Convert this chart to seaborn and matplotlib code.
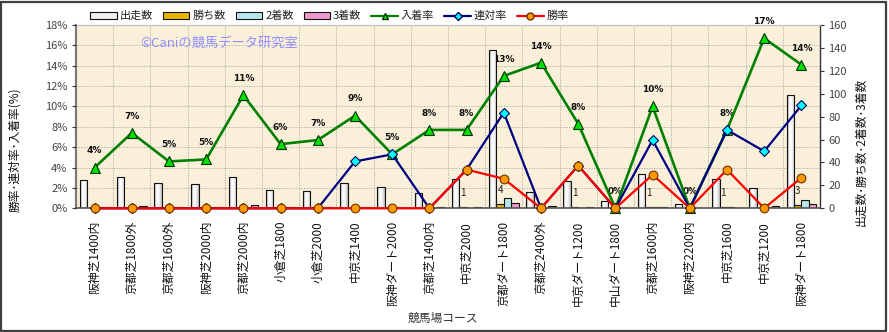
import numpy as np
import pandas as pd
import matplotlib
matplotlib.use("Agg")
import matplotlib.pyplot as plt
import seaborn as sns
from matplotlib.patches import Patch, Rectangle
from matplotlib.lines import Line2D
from matplotlib.colors import LinearSegmentedColormap
from matplotlib.ticker import FixedLocator, FuncFormatter

# ---- data -------------------------------------------------------------
courses = ["阪神芝1400内", "京都芝1800外", "京都芝1600外", "阪神芝2000内", "京都芝2000内",
           "小倉芝1800", "小倉芝2000", "中京芝1400", "阪神ダート2000", "京都芝1400内",
           "中京芝2000", "京都ダート1800", "京都芝2400外", "中京ダート1200", "中山ダート1800",
           "京都芝1600内", "阪神芝2200内", "中京芝1600", "中京芝1200", "阪神ダート1800"]

runs = [25, 27, 22, 21, 27, 16, 15, 22, 19, 13, 26, 138, 14, 24, 6, 30, 4, 26, 18, 99]
wins = [0, 0, 0, 0, 0, 0, 0, 0, 0, 0, 1, 4, 0, 1, 0, 1, 0, 1, 0, 3]
seconds = [0, 0, 0, 0, 0, 0, 0, 1, 1, 0, 0, 9, 0, 0, 0, 1, 0, 1, 1, 7]
thirds = [1, 2, 1, 1, 3, 1, 1, 1, 0, 1, 1, 5, 2, 1, 0, 1, 0, 0, 2, 4]

place_rate = [4.0, 7.4, 4.6, 4.8, 11.1, 6.3, 6.7, 9.1, 5.3, 7.7,
              7.7, 13.0, 14.3, 8.3, 0.0, 10.0, 0.0, 7.7, 16.7, 14.1]
quinella_rate = [0.0, 0.0, 0.0, 0.0, 0.0, 0.0, 0.0, 4.6, 5.3, 0.0,
                 3.8, 9.4, 0.0, 4.2, 0.0, 6.7, 0.0, 7.7, 5.6, 10.1]
win_rate = [0.0, 0.0, 0.0, 0.0, 0.0, 0.0, 0.0, 0.0, 0.0, 0.0,
            3.8, 2.9, 0.0, 4.2, 0.0, 3.3, 0.0, 3.8, 0.0, 3.0]

bar_series = ["出走数", "勝ち数", "2着数", "3着数"]
pct_ticks = list(range(0, 19, 2))
count_ticks = list(range(0, 161, 20))

# ---- style ------------------------------------------------------------
sns.set_theme(style="white")
plt.rcParams["font.family"] = ["Noto Sans CJK JP", "DejaVu Sans"]

bar_colors = ["#EEEEEE", "#E8B400", "#B4E6EC", "#EC9CCC"]
n = len(courses)

W, H = 889, 332
fig = plt.figure(figsize=(W / 100, H / 100), dpi=100)
fig.patch.set_facecolor("white")

x0, x1, ytop, ybot = 76, 820, 25, 208.3
ax_bar = fig.add_axes([x0 / W, 1 - ybot / H, (x1 - x0) / W, (ybot - ytop) / H])
ax_bar.set_facecolor("#FAF0DA")
ax_rate = ax_bar.twinx()

# counts as grouped bars (right axis)
counts = pd.DataFrame({
    "コース": courses * 4,
    "項目": np.repeat(bar_series, n),
    "数": runs + wins + seconds + thirds,
})
sns.barplot(data=counts, x="コース", y="数", hue="項目", hue_order=bar_series,
            palette=bar_colors, saturation=1, width=0.8, gap=0, errorbar=None,
            edgecolor="#111111", linewidth=0.8, legend=False, ax=ax_bar)

# soft cylinder shading on the starts bars
shade = LinearSegmentedColormap.from_list("shade", ["#9A9A9A", "#FFFFFF", "#F4F4F4", "#B8B8B8"])
grad = np.linspace(0, 1, 64).reshape(1, -1)
for p in ax_bar.containers[0]:
    bx, by = p.get_x(), p.get_y()
    bw, bh = p.get_width(), p.get_height()
    if bh <= 0:
        continue
    im = ax_bar.imshow(grad, cmap=shade, aspect="auto", extent=(bx, bx + bw, by, by + bh),
                       zorder=0.95, interpolation="bilinear")
    im.set_clip_path(p)
    p.set_facecolor("none")

# rates as lines (left axis); win rate drawn last so it sits on top
line_specs = [
    (place_rate, "#008000", "^", 7.0, "#00E000", "#003000", 1.9),
    (quinella_rate, "#000080", "D", 4.8, "#00FFFF", "#000060", 1.6),
    (win_rate, "#FF0000", "o", 6.3, "#FF9900", "#703000", 1.6),
]
for vals, col, mk, ms, mfc, mec, lw in line_specs:
    sns.lineplot(x=courses, y=vals, sort=False, ax=ax_rate, color=col, linewidth=lw,
                 marker=mk, markersize=ms, markerfacecolor=mfc, markeredgecolor=mec,
                 markeredgewidth=0.8, clip_on=False)

# value labels: rate labels sit behind the bars, as in the chart layers
for i, v in enumerate(place_rate):
    ax_bar.annotate(f"{v:.0f}%", (i, v), xycoords=ax_rate.transData, xytext=(0, 12),
                    textcoords="offset points", ha="center", va="center", fontsize=6.5,
                    fontweight="bold", color="#111111", family=["DejaVu Sans"], zorder=0.9)
for i, w in enumerate(wins):
    if w > 0:
        ax_bar.annotate(str(w), (i - 0.1, w), xytext=(0, 10), textcoords="offset points",
                        ha="center", va="center", fontsize=7, color="#222222")

# axes layout
ax_bar.yaxis.tick_right()
ax_bar.yaxis.set_label_position("right")
ax_rate.yaxis.tick_left()
ax_rate.yaxis.set_label_position("left")

ax_bar.set_xlim(-0.5, n - 0.5)
ax_bar.set_ylim(0, 160)
ax_rate.set_ylim(0, 18)
ax_bar.set_yticks(count_ticks)
ax_rate.set_yticks(pct_ticks)
ax_rate.yaxis.set_major_formatter(FuncFormatter(lambda v, _: f"{v:.0f}%"))

# dotted grid behind the bars
ax_bar.xaxis.set_minor_locator(FixedLocator(np.arange(-0.5, n, 1.0)))
ax_bar.yaxis.set_minor_locator(FixedLocator(np.array(pct_ticks) * 160 / 18))
ax_bar.grid(which="minor", axis="both", color="#A8A8A8", linestyle=(0, (1.5, 1.5)), linewidth=0.6)
ax_bar.grid(which="major", visible=False)
ax_bar.set_axisbelow(True)
ax_bar.tick_params(which="minor", length=0)

ax_bar.set_xlabel("")
ax_bar.set_ylabel("")
ax_rate.set_xlabel("")
ax_rate.set_ylabel("")
ax_bar.set_xticks(range(n))
ax_bar.set_xticklabels(courses, rotation=90, fontsize=8.5, color="#111111")
ax_bar.tick_params(axis="x", which="major", length=0, pad=9)
ax_bar.tick_params(axis="y", which="major", length=3, width=0.8, color="#333333",
                   labelsize=8, labelcolor="#444444", pad=3, right=True, left=False)
ax_rate.tick_params(axis="y", which="major", length=3, width=0.8, color="#333333",
                    labelsize=8, labelcolor="#444444", pad=3, left=True, right=False)

for sp in ax_rate.spines.values():
    sp.set_visible(False)
ax_bar.spines["left"].set_color("#7A7A7A")
ax_bar.spines["left"].set_linewidth(1.6)
ax_bar.spines["right"].set_color("#333333")
ax_bar.spines["right"].set_linewidth(1.0)
ax_bar.spines["bottom"].set_color("#555555")
ax_bar.spines["bottom"].set_linewidth(1.2)
ax_bar.spines["top"].set_color("#BBBBBB")
ax_bar.spines["top"].set_linewidth(0.8)

# axis titles
fig.text(15 / W, 1 - 150 / H, "勝率･連対率･入着率(%)", rotation=90, ha="center", va="center",
         fontsize=8.5, color="#111111")
fig.text(861 / W, 1 - 152 / H, "出走数･勝ち数･2着数･3着数", rotation=90, ha="center", va="center",
         fontsize=8.5, color="#111111")
fig.text(443 / W, 1 - 318 / H, "競馬場コース", ha="center", va="center", fontsize=8.5,
         color="#333333")

# watermark
fig.text(140 / W, 1 - 43 / H, "©Caniの競馬データ研究室", ha="left", va="center",
         fontsize=9.5, color="#8E8EFF")

# legend
handles = [Patch(facecolor=c, edgecolor="#111111", linewidth=0.8) for c in bar_colors]
handles += [
    Line2D([], [], color="#008000", lw=1.6, marker="^", markersize=5,
           markerfacecolor="#00E000", markeredgecolor="#003000"),
    Line2D([], [], color="#000080", lw=1.6, marker="D", markersize=4,
           markerfacecolor="#00FFFF", markeredgecolor="#000060"),
    Line2D([], [], color="#FF0000", lw=1.6, marker="o", markersize=5,
           markerfacecolor="#FF9900", markeredgecolor="#703000"),
]
labels = bar_series + ["入着率", "連対率", "勝率"]
fig.legend(handles, labels, loc="center left", bbox_to_anchor=(80 / W, 1 - 16 / H),
           ncol=7, frameon=False, fontsize=8, handlelength=2.4, handleheight=0.55,
           handletextpad=0.25, columnspacing=0.9, labelcolor="#222222")

# outer frame
fig.add_artist(Rectangle((1 / W, 1 / H), (W - 4) / W, (H - 3) / H, transform=fig.transFigure,
                         fill=False, edgecolor="#404040", linewidth=1.6))

fig.savefig("out.png", dpi=100)
